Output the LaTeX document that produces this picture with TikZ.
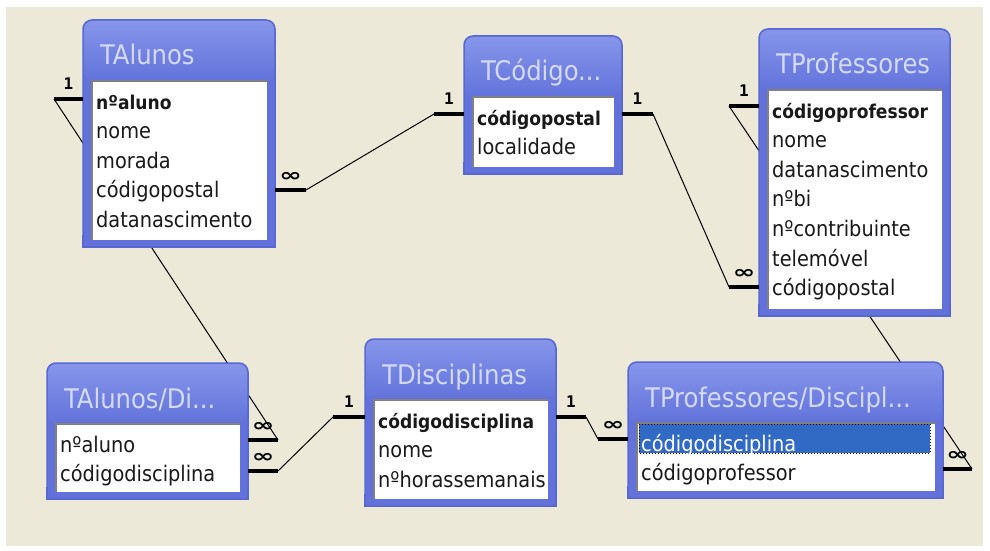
\documentclass[tikz,border=0pt]{standalone}
\usepackage{fontspec}
\setmainfont{DejaVu Sans Condensed}
\newfontfamily\umfont{DejaVu Sans Mono}
\newfontfamily\inffont{DejaVu Sans}
\definecolor{fundo}{RGB}{236,233,216}
\definecolor{azul}{RGB}{98,114,218}
\definecolor{azulclaro}{RGB}{134,149,234}
\definecolor{borda}{RGB}{88,104,208}
\definecolor{titulo}{RGB}{210,218,246}
\definecolor{selecao}{RGB}{49,106,197}
\tikzset{
  caixa/.style={draw=borda,line width=1.5pt,fill=azul,rounded corners=9pt,anchor=north west,inner sep=0pt,outer sep=0pt},
  cabeca/.style={top color=azulclaro,bottom color=azul,rounded corners=8pt},
  campo/.style={fill=white,anchor=north west,inner sep=0pt,outer sep=0pt},
  sulco/.style={draw=black!50,line width=1.5pt},
  titulo/.style={anchor=base west,inner sep=0pt,text=titulo,font=\fontsize{27}{30}\selectfont},
  linha/.style={anchor=base west,inner sep=0pt,text=black!90,font=\fontsize{21.5}{24}\selectfont},
  chave/.style={linha,font=\fontsize{19}{24}\selectfont\bfseries},
  haste/.style={line width=4pt},
  rel/.style={line width=1pt},
  um/.style={above=7pt,inner sep=1pt,font=\umfont\bfseries\fontsize{16}{16}\selectfont},
  inf/.style={above=6pt,inner sep=1pt,xscale=1.5,font=\inffont\bfseries\fontsize{18}{18}\selectfont}
}
\begin{document}
\begin{tikzpicture}[x=1pt,y=-1pt]
\useasboundingbox (0,0) rectangle (990,551);
\fill[white] (0,0) rectangle (990,551);
\fill[fundo] (6,7) rectangle (983,546);

% pontas das relacoes
\coordinate (pa1) at (54,99);
\coordinate (pa2) at (306,190);
\coordinate (pc1) at (434,114);
\coordinate (pc2) at (653,114);
\coordinate (pp1) at (729,106);
\coordinate (pp2) at (729,287);
\coordinate (pad1) at (278,440);
\coordinate (pad2) at (278,471);
\coordinate (pd1) at (333,417);
\coordinate (pd2) at (586,417);
\coordinate (ppd1) at (598,439);
\coordinate (ppd2) at (972,469);

\draw[rel] (pa1) -- (pad1);
\draw[rel] (pp1) -- (ppd2);
\draw[rel] (pa2) -- (pc1);
\draw[rel] (pc2) -- (pp2);
\draw[rel] (pad2) -- (pd1);
\draw[rel] (pd2) -- (ppd1);

% TAlunos
\begin{scope}[shift={(83,20)}]
\node[caixa,minimum width=192pt,minimum height=227pt] (alunos) at (0,0) {};
\fill[azul] (0,215) rectangle (192,227);
\draw[borda,line width=1.5pt] (0,215) |- (192,227) -- (192,215);
\shade[cabeca] (1,1) rectangle (191,61);
\node[campo,minimum width=175pt,minimum height=159pt] (alunos-c) at (9,61) {};
\draw[sulco] (alunos-c.south west) |- (alunos-c.north east);
\node[titulo] (alunos-t) at (17,45) {TAlunos};
\node[chave] (alunos1) at (13,89) {nºaluno};
\node[linha] (alunos2) at (13,118.6) {nome};
\node[linha] (alunos3) at (13,148.2) {morada};
\node[linha] (alunos4) at (13,177.8) {códigopostal};
\node[linha] (alunos5) at (13,207.4) {datanascimento};
\end{scope}

% TCodigo
\begin{scope}[shift={(464,36)}]
\node[caixa,minimum width=158pt,minimum height=138pt] (codigo) at (0,0) {};
\fill[azul] (0,126) rectangle (158,138);
\draw[borda,line width=1.5pt] (0,126) |- (158,138) -- (158,126);
\shade[cabeca] (1,1) rectangle (157,61);
\node[campo,minimum width=141pt,minimum height=70pt] (codigo-c) at (9,61) {};
\draw[sulco] (codigo-c.south west) |- (codigo-c.north east);
\node[titulo] (codigo-t) at (17,45) {TCódigo...};
\node[chave] (codigo1) at (13,89) {códigopostal};
\node[linha] (codigo2) at (13,118.6) {localidade};
\end{scope}

% TProfessores
\begin{scope}[shift={(759,29)}]
\node[caixa,minimum width=191pt,minimum height=287pt] (prof) at (0,0) {};
\fill[azul] (0,275) rectangle (191,287);
\draw[borda,line width=1.5pt] (0,275) |- (191,287) -- (191,275);
\shade[cabeca] (1,1) rectangle (190,61);
\node[campo,minimum width=174pt,minimum height=219pt] (prof-c) at (9,61) {};
\draw[sulco] (prof-c.south west) |- (prof-c.north east);
\node[titulo] (prof-t) at (17,45) {TProfessores};
\node[chave] (prof1) at (13,89) {códigoprofessor};
\node[linha] (prof2) at (13,118.6) {nome};
\node[linha] (prof3) at (13,148.2) {datanascimento};
\node[linha] (prof4) at (13,177.8) {nºbi};
\node[linha] (prof5) at (13,207.4) {nºcontribuinte};
\node[linha] (prof6) at (13,237) {telemóvel};
\node[linha] (prof7) at (13,266.6) {códigopostal};
\end{scope}

% TAlunos/Disciplinas
\begin{scope}[shift={(47,363)}]
\node[caixa,minimum width=201pt,minimum height=136pt] (alunosdi) at (0,0) {};
\fill[azul] (0,124) rectangle (201,136);
\draw[borda,line width=1.5pt] (0,124) |- (201,136) -- (201,124);
\shade[cabeca] (1,1) rectangle (200,61);
\node[campo,minimum width=184pt,minimum height=68pt] (alunosdi-c) at (9,61) {};
\draw[sulco] (alunosdi-c.south west) |- (alunosdi-c.north east);
\node[titulo] (alunosdi-t) at (17,45) {TAlunos/Di...};
\node[linha] (alunosdi1) at (13,89) {nºaluno};
\node[linha] (alunosdi2) at (13,118.6) {códigodisciplina};
\end{scope}

% TDisciplinas
\begin{scope}[shift={(365,339)}]
\node[caixa,minimum width=191pt,minimum height=167pt] (disc) at (0,0) {};
\fill[azul] (0,155) rectangle (191,167);
\draw[borda,line width=1.5pt] (0,155) |- (191,167) -- (191,155);
\shade[cabeca] (1,1) rectangle (190,61);
\node[campo,minimum width=174pt,minimum height=99pt] (disc-c) at (9,61) {};
\draw[sulco] (disc-c.south west) |- (disc-c.north east);
\node[titulo] (disc-t) at (17,45) {TDisciplinas};
\node[chave] (disc1) at (13,89) {códigodisciplina};
\node[linha] (disc2) at (13,118.6) {nome};
\node[linha] (disc3) at (13,148.2) {nºhorassemanais};
\end{scope}

% TProfessores/Disciplinas
\begin{scope}[shift={(628,362)}]
\node[caixa,minimum width=315pt,minimum height=136pt] (profdisc) at (0,0) {};
\fill[azul] (0,124) rectangle (315,136);
\draw[borda,line width=1.5pt] (0,124) |- (315,136) -- (315,124);
\shade[cabeca] (1,1) rectangle (314,61);
\node[campo,minimum width=298pt,minimum height=68pt] (profdisc-c) at (9,61) {};
\draw[sulco] (profdisc-c.south west) |- (profdisc-c.north east);
\filldraw[fill=selecao,draw=black,dotted,line width=1pt] (11,62) rectangle (302,91);
\node[titulo] (profdisc-t) at (17,45) {TProfessores/Discipl...};
\node[linha,text=white] (profdisc1) at (13,89) {códigodisciplina};
\node[linha] (profdisc2) at (13,118.6) {códigoprofessor};
\end{scope}

% hastes
\draw[haste] (pa1) -- (pa1 -| alunos.west) node[midway,um] {1};
\draw[haste] (pa2) -- (pa2 -| alunos.east) node[midway,inf] {∞};
\draw[haste] (pc1) -- (pc1 -| codigo.west) node[midway,um] {1};
\draw[haste] (pc2) -- (pc2 -| codigo.east) node[midway,um] {1};
\draw[haste] (pp1) -- (pp1 -| prof.west) node[midway,um] {1};
\draw[haste] (pp2) -- (pp2 -| prof.west) node[midway,inf] {∞};
\draw[haste] (pad1) -- (pad1 -| alunosdi.east) node[midway,inf] {∞};
\draw[haste] (pad2) -- (pad2 -| alunosdi.east) node[midway,inf] {∞};
\draw[haste] (pd1) -- (pd1 -| disc.west) node[midway,um] {1};
\draw[haste] (pd2) -- (pd2 -| disc.east) node[midway,um] {1};
\draw[haste] (ppd1) -- (ppd1 -| profdisc.west) node[midway,inf] {∞};
\draw[haste] (ppd2) -- (ppd2 -| profdisc.east) node[midway,inf] {∞};
\end{tikzpicture}
\end{document}
